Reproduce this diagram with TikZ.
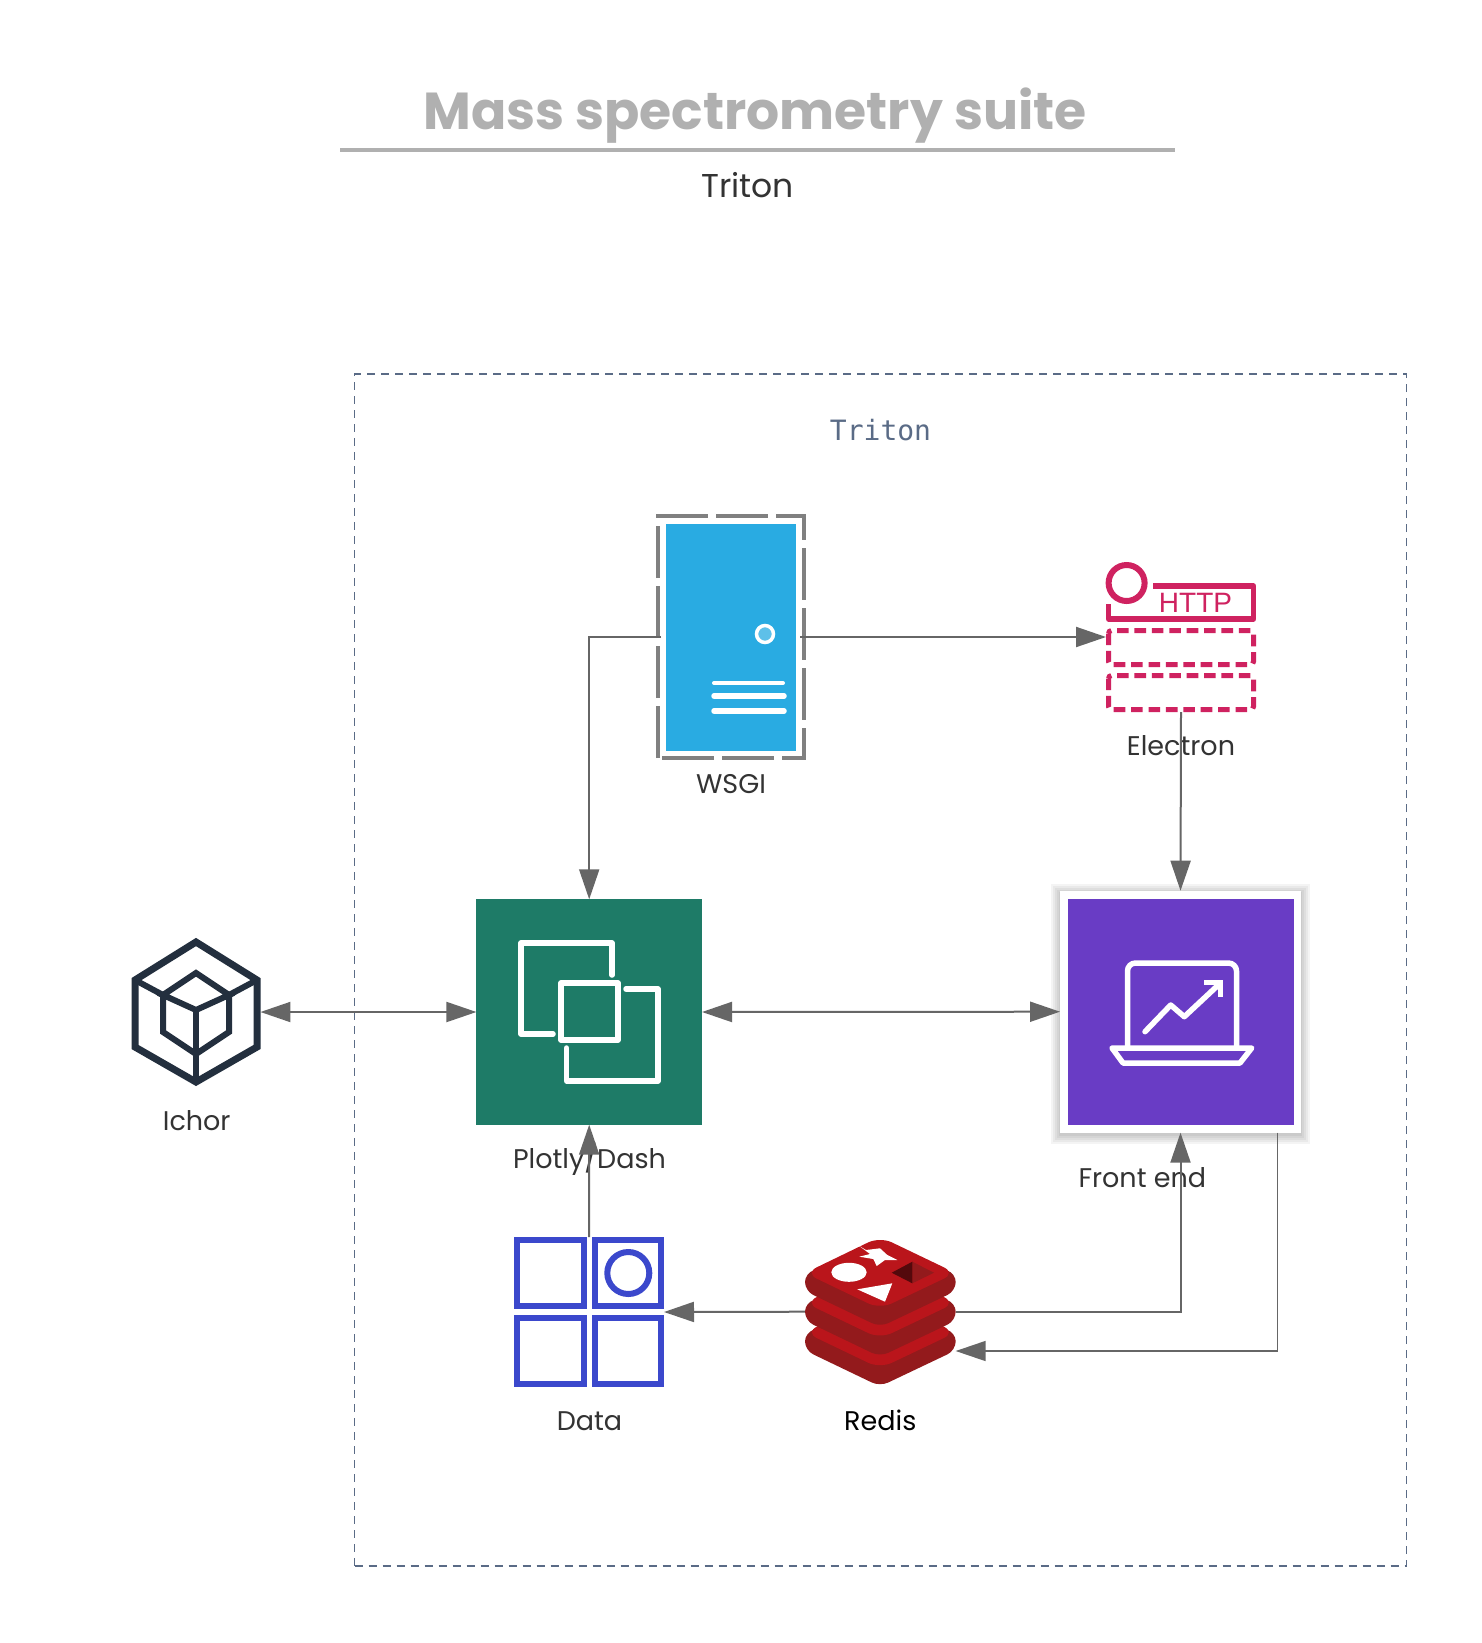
\documentclass[tikz,border=0pt]{standalone}
\usepackage{fontspec}
\setmainfont{Poppins}
\newfontfamily\monof{DejaVu Sans Mono}
\newfontfamily\httpf{Liberation Sans}
\usetikzlibrary{arrows.meta,calc}
\definecolor{ink}{HTML}{333333}
\definecolor{linegray}{HTML}{666666}
\definecolor{titlegray}{HTML}{B0B0B0}
\definecolor{framec}{HTML}{5A6B86}
\definecolor{wsgiblue}{HTML}{29ABE2}
\definecolor{wsgidash}{HTML}{808080}
\definecolor{elec}{HTML}{CF2260}
\definecolor{ichorc}{HTML}{232F3E}
\definecolor{plotc}{HTML}{1E7B67}
\definecolor{frontc}{HTML}{693CC5}
\definecolor{datac}{HTML}{3B48CC}
\definecolor{redtop}{HTML}{BA151B}
\definecolor{redside}{HTML}{931A1C}
\tikzset{
  iconbox/.style={inner sep=0pt,outer sep=0pt},
  lab/.style={anchor=base,inner sep=0pt,text=ink,font=\fontsize{27}{30}\selectfont},
  conn/.style={draw=linegray,line width=2pt,-{Triangle[length=30pt,width=20pt,fill=linegray]}},
  bconn/.style={draw=linegray,line width=2pt,{Triangle[length=30pt,width=20pt,fill=linegray]}-{Triangle[length=30pt,width=20pt,fill=linegray]}},
  whiteicon/.style={draw=white,line width=5.5pt,line join=round,line cap=round},
}
\newcommand{\redislayer}[1]{%
  \begin{scope}[yshift=-#1pt]
    \fill[redside,rounded corners=9pt] (805,1273) -- (805,1291) -- (880,1327) -- (955.7,1291) -- (955.7,1273) -- (880,1250) -- cycle;
    \fill[redtop,rounded corners=13pt] (880,1236.7) -- (955.7,1273) -- (880,1309) -- (805,1273) -- cycle;
  \end{scope}}
\begin{document}
\begin{tikzpicture}[x=1pt,y=-1pt]
\useasboundingbox (0,0) rectangle (1481,1643);
\fill[white] (0,0) rectangle (1481,1643);

% title
\node[anchor=base,inner sep=0pt,text=titlegray,font=\fontsize{52}{56}\selectfont\bfseries] (title) at (755,130) {Mass spectrometry suite};
\coordinate (ruleL) at (340,150);
\coordinate (ruleR) at (1175,150);
\draw[titlegray,line width=4pt] (ruleL) -- (ruleR);
\node[lab,font=\fontsize{33}{36}\selectfont] (subtitle) at (747.5,197) {Triton};

% frame
\node[draw=framec,line width=1.4pt,dash pattern=on 8pt off 6pt,inner sep=0pt,outer sep=0pt,minimum width=1052pt,minimum height=1192pt] (frame) at (880.7,970) {};
\node[anchor=base,inner sep=0pt,text=framec,font=\monof\fontsize{28}{30}\selectfont] (frametitle) at (880.5,440) {Triton};

% WSGI
\node[iconbox,minimum width=146pt,minimum height=242pt] (wsgi) at (731,637) {};
\draw[wsgidash,line width=4pt,dash pattern=on 52pt off 8pt] (658,758) -- (658,516) -- (804,516) -- (804,758) -- cycle;
\fill[wsgiblue] (665.6,524) rectangle (796,751);
\draw[white,line width=3.5pt,fill=wsgiblue!75!white] (765,634) circle (8.5);
\draw[white,line width=4pt,line cap=round] (714,683) -- (783,683);
\draw[white,line width=5.5pt,line cap=round] (714,696) -- (784,696);
\draw[white,line width=5.5pt,line cap=round] (714,711) -- (784,711);
\node[lab] (wsgilab) at (731,793) {WSGI};

% Electron
\node[iconbox,minimum width=150pt,minimum height=150pt] (electron) at (1181,637) {};
\draw[elec,line width=6pt] (1126.6,583) circle (18);
\draw[elec,line width=5.5pt,line join=round] (1153,586) -- (1253.5,586) -- (1253.5,619) -- (1108.7,619) -- (1108.7,604);
\node[anchor=base,inner sep=0pt,text=elec,font=\httpf\fontsize{28}{30}\selectfont] (http) at (1195.5,612.7) {HTTP};
\draw[elec,line width=5pt,dash pattern=on 11.6pt off 5.8pt,rounded corners=3pt] (1108.5,630.5) rectangle (1253.5,664.5);
\draw[elec,line width=5pt,dash pattern=on 11.6pt off 5.8pt,rounded corners=3pt] (1108.5,675.5) rectangle (1253.5,709.5);
\node[lab] (electronlab) at (1181,755.7) {Electron};

% Ichor
\node[iconbox,minimum width=129.5pt,minimum height=150pt] (ichor) at (195.7,1012) {};
\begin{scope}[draw=ichorc,line width=7pt,line join=miter]
\draw (196,942) -- (257,980) -- (257,1047) -- (196,1082) -- (135,1047) -- (135,980) -- cycle;
\draw[line width=6pt] (196,973) -- (229,995) -- (196,1010) -- (163,995) -- cycle;
\draw[line width=6pt] (163,995) -- (163,1032) -- (196,1054) -- (229,1032) -- (229,995);
\draw[line width=6pt] (196,1010) -- (196,1083);
\draw[line width=6pt] (135,980) -- (163,995) (257,980) -- (229,995);
\end{scope}
\node[lab] (ichorlab) at (196.7,1130.7) {Ichor};

% Plotly
\node[iconbox,fill=plotc,minimum width=225.6pt,minimum height=225.4pt] (plotly) at (589.2,1012) {};
\draw[whiteicon] (612,975) -- (612,943) -- (521,943) -- (521,1034) -- (553,1034);
\draw[whiteicon] (561,983) rectangle (618,1040);
\draw[whiteicon] (626,989) -- (658,989) -- (658,1081) -- (566.6,1081) -- (566.6,1048);
\node[lab] (plotlylab) at (589.5,1168) {Plotly/Dash};

% Front end
\foreach \g in {9,7,5,3,1}{\fill[black,opacity=0.045] (1060-\g,890.7-\g+2) rectangle (1301+\g,1132.7+\g+2);}
\node[iconbox,fill=white,minimum width=241pt,minimum height=242pt] (front) at (1180.5,1011.7) {};
\fill[frontc] (1068.3,899.3) rectangle (1294,1125);
\draw[whiteicon,rounded corners=8pt,line cap=butt] (1127.5,1048) -- (1127.5,963) -- (1236.5,963) -- (1236.5,1048);
\draw[whiteicon] (1112,1048) -- (1251.7,1048) -- (1240,1063) -- (1123,1063) -- cycle;
\draw[whiteicon] (1145,1031.7) -- (1170.7,1005) -- (1184.3,1016.7) -- (1218.3,985);
\draw[whiteicon,line join=miter,line cap=butt] (1204,982.3) -- (1220.7,982.3) -- (1220.7,997.3);
\node[lab] (frontlab) at (1142.3,1187) {Front end};

% Data
\node[iconbox,minimum width=150pt,minimum height=150pt] (data) at (589,1312) {};
\begin{scope}[draw=datac,line width=6pt]
\draw (517,1240.3) rectangle (583.7,1306);
\draw (595,1240.3) rectangle (661.3,1306);
\draw (517,1318) rectangle (583.7,1384);
\draw (595,1318) rectangle (661.3,1384);
\draw (628.3,1273) circle (21);
\end{scope}
\node[lab] (datalab) at (589.5,1430) {Data};

% Redis
\node[iconbox,minimum width=150.7pt,minimum height=150pt] (redis) at (880.3,1311.7) {};
\redislayer{59.4}
\redislayer{29.7}
\redislayer{0}
\fill[white] (859.3,1246) -- (866,1250) -- (880,1248.3) -- (887.3,1255) -- (897.3,1260) -- (885,1260) -- (876.7,1266) -- (873.3,1259) -- (859.3,1256.7) -- (870,1254) -- cycle;
\fill[white] (849,1272.3) ellipse (17.7 and 9.5);
\fill[white] (857.3,1289.3) -- (892.3,1283.3) -- (885,1301.7) -- cycle;
\fill[redside] (912.3,1261.7) -- (934,1272.7) -- (912.3,1283.3) -- cycle;
\fill[black!55!redtop] (912.3,1261.7) -- (891.7,1272.7) -- (912.3,1283.3) -- cycle;
\node[lab,text=black] (redislab) at (880.3,1430) {Redis};

% connectors
\draw[conn] ([xshift=-4pt]wsgi.east) -- (electron.west);
\draw[conn] ([xshift=3pt]wsgi.west) -| (plotly.north);
\draw[conn] (electron.south) -- (front.north);
\draw[bconn] (ichor.east) -- (plotly.west);
\draw[bconn] (plotly.east) -- (front.west);
\draw[conn] (data.north) -- (plotly.south);
\draw[conn] (redis.west) -- (data.east);
\draw[conn] (redis.east) -| (front.south);
\draw[conn,line width=1.5pt] ([xshift=97.2pt]front.south) |- ([yshift=-39.3pt]redis.east);
\end{tikzpicture}
\end{document}
